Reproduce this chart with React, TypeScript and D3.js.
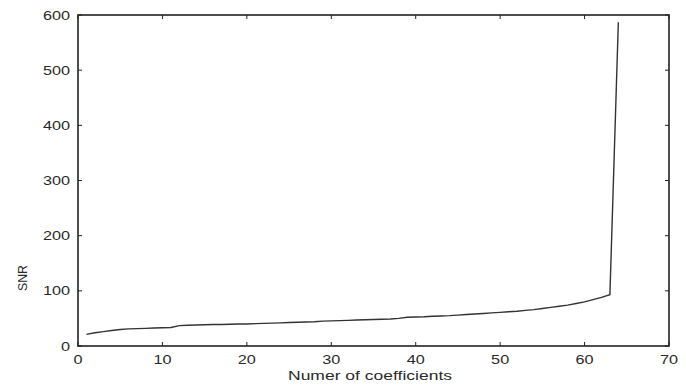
import React from 'react';
import * as d3 from 'd3';

// number of coefficients kept (x) and SNR (y)
const coefCount = d3.range(1, 65);
const snrValues = [
  21, 24, 26, 28, 30, 31, 31.5, 32, 32.5, 33,
  33.5, 37, 37.5, 38, 38.5, 39, 39, 39.5, 40, 40,
  40.5, 41, 41.5, 42, 42.5, 43, 43.5, 44, 45, 45.5,
  46, 46.5, 47, 47.5, 48, 48.5, 49, 50, 52, 52.5,
  53, 54, 54.5, 55, 56, 57, 58, 59, 60, 61,
  62, 63, 64.5, 66, 68, 70, 72, 74, 77, 80,
  84, 88, 93, 587,
];
const xTicks = [0, 10, 20, 30, 40, 50, 60, 70];
const yTicks = [0, 100, 200, 300, 400, 500, 600];

const W = 686;
const H = 385;
const margin = { top: 15, right: 17, bottom: 39, left: 78 };

const App = () => {
  const x = d3.scaleLinear().domain([0, 70]).range([margin.left, W - margin.right]);
  const y = d3.scaleLinear().domain([0, 600]).range([H - margin.bottom, margin.top]);

  const line = d3
    .line<number>()
    .x((d, i) => x(coefCount[i]))
    .y((d) => y(d));

  const x0 = x.range()[0], x1 = x.range()[1];
  const y0 = y.range()[0], y1 = y.range()[1];
  const tick = 4;
  const font = { fontFamily: 'Liberation Sans, Arial, sans-serif', fontSize: 12.5, fill: '#2a2a2a' };

  return (
    <svg width={W} height={H} style={{ position: 'absolute', left: 0, top: 0, background: '#fff' }}>
      <rect width={W} height={H} fill="#fff" />
      {/* ticks on all four sides, pointing inward */}
      <g stroke="#222" strokeWidth={1}>
        {xTicks.map((t) => (
          <g key={'xt' + t}>
            <line x1={x(t)} x2={x(t)} y1={y0} y2={y0 - tick} />
            <line x1={x(t)} x2={x(t)} y1={y1} y2={y1 + tick} />
          </g>
        ))}
        {yTicks.map((t) => (
          <g key={'yt' + t}>
            <line x1={x0} x2={x0 + tick} y1={y(t)} y2={y(t)} />
            <line x1={x1} x2={x1 - tick} y1={y(t)} y2={y(t)} />
          </g>
        ))}
      </g>
      <rect x={x0} y={y1} width={x1 - x0} height={y0 - y1} fill="none" stroke="#222" strokeWidth={1.6} />

      <path d={line(snrValues) || ''} fill="none" stroke="#333" strokeWidth={1.4} />

      {xTicks.map((t) => (
        <text
          key={'xl' + t}
          {...font}
          textAnchor="middle"
          transform={`translate(${x(t)},${y0 + 18}) scale(1.3,1)`}
        >
          {t}
        </text>
      ))}
      {yTicks.map((t) => (
        <text
          key={'yl' + t}
          {...font}
          textAnchor="end"
          transform={`translate(${x0 - 8},${y(t) + 4.5}) scale(1.3,1)`}
        >
          {t}
        </text>
      ))}

      <text {...font} x={288} y={380} textLength={164} lengthAdjust="spacingAndGlyphs">
        Numer of coefficients
      </text>
      <text
        {...font}
        textAnchor="middle"
        transform={`translate(27,278) rotate(-90)`}
        textLength={26}
        lengthAdjust="spacingAndGlyphs"
      >
        SNR
      </text>
    </svg>
  );
};

export default App;
